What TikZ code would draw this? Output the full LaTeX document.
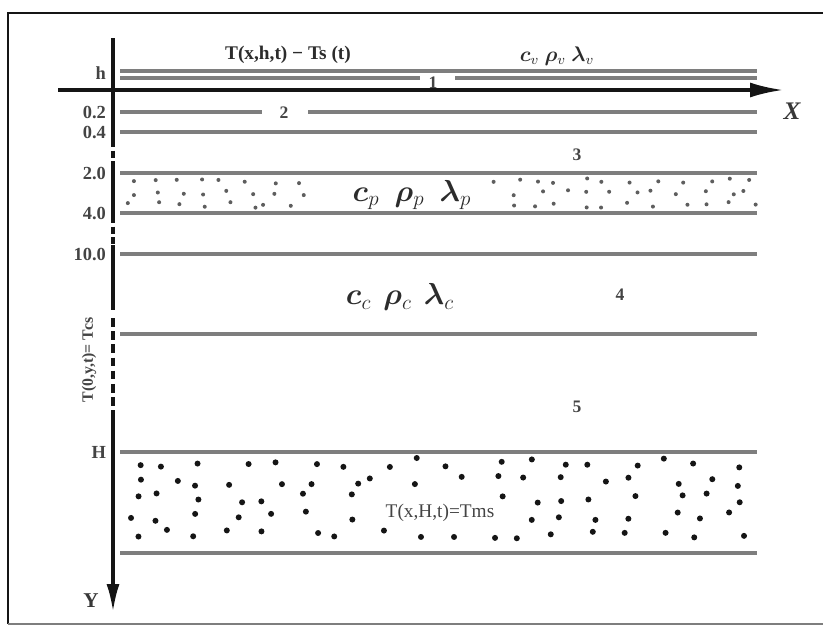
\documentclass[tikz,border=0pt]{standalone}
\usepackage{bm}
\usepackage{fontspec}
\setmainfont{Liberation Serif}
\usetikzlibrary{arrows.meta}
\definecolor{encre}{HTML}{151515}
\definecolor{trait}{HTML}{7E7E7E}
\definecolor{grain}{HTML}{5E5E5E}

\begin{document}
\begin{tikzpicture}[x=0.02cm, y=-0.02cm,
    axe/.style={encre, line width=1.8pt},
    couche/.style={trait, line width=1.9pt},
    graduation/.style={font=\fontsize{10.5}{12}\selectfont\bfseries, color=encre!80, anchor=east, inner sep=1pt},
    numero/.style={font=\fontsize{10}{11}\selectfont\bfseries, color=encre!80, inner sep=1pt},
    proprio/.style={font=\LARGE, color=encre!90, inner sep=1pt}]
    \useasboundingbox (0,0) rectangle (823,626);
    % cadre
    \draw[encre, line width=1.2pt] (823,13) -- (8,13) -- (8,624);
    \draw[trait, line width=1pt] (8,624) -- (823,624);
    % couches
    \foreach \yy in {71,132,173,213,254,334,452,553} {
      \draw[couche] (120,\yy) -- (757,\yy);
    }
    \draw[couche] (120,78) -- (420,78);
    \draw[couche] (455,78) -- (757,78);
    \draw[couche] (120,112) -- (262,112);
    \draw[couche] (308,112) -- (757,112);
    % graduations
    \foreach \yy/\lab/\nom in {73/h/h, 112/0.2/a, 132/0.4/b, 173/2.0/c, 213/4.0/d, 254/10.0/e, 452/H/H} {
      \node[graduation] (g-\nom) at (108,\yy) {\lab};
    }
    % axes
    \coordinate (ox) at (58,90);
    \coordinate (fx) at (783,90);
    \draw[axe, -{Latex[length=0.66cm, width=0.3cm]}] (ox) -- (fx);
    \node[font=\Large\bfseries\itshape, color=encre!85] (lab-x) at (792,111) {X};
    \coordinate (oy) at (113,38);
    \coordinate (fy) at (113,612);
    \draw[axe] (oy) -- (113,140);
    \draw[axe, dash pattern=on 4pt off 2pt] (113,140) -- (113,168);
    \draw[axe] (113,168) -- (113,216);
    \draw[axe, dash pattern=on 4pt off 2pt] (113,216) -- (113,245);
    \draw[axe] (113,245) -- (113,310);
    \draw[axe, dash pattern=on 5pt off 2.5pt] (113,318) -- (113,415);
    \draw[axe, -{Latex[length=0.56cm, width=0.26cm]}] (113,415) -- (fy);
    \node[font=\large\bfseries, color=encre!85] (lab-y) at (91,601) {Y};
    % textes
    \node[font=\fontsize{11}{13}\selectfont\bfseries, color=encre!90] (bord-h) at (288,55) {T(x,h,t) − Ts (t)};
    \node[font=\large, color=encre!90] (prop-v) at (557,56) {$\bm{c}_v$ $\bm{\rho}_v$ $\bm{\lambda}_v$};
    \node[proprio] (prop-p) at (412,195) {$\bm{c}_p$\hspace{0.5em}$\bm{\rho}_p$\hspace{0.5em}$\bm{\lambda}_p$};
    \node[proprio] (prop-c) at (400,297) {$\bm{c}_c$\hspace{0.4em}$\bm{\rho}_c$\hspace{0.4em}$\bm{\lambda}_c$};
    \node[font=\fontsize{9}{10}\selectfont\bfseries, color=encre!80, rotate=90] (bord-0) at (89,360) {T(0,y,t)= Tcs};
    \node[font=\fontsize{11}{13}\selectfont, color=encre!80] (bord-H) at (440,513) {T(x,H,t)=Tms};
    \foreach \px/\py/\lab in {433/83/1, 284/113/2, 577/155/3, 620/295/4, 577/407/5} {
      \node[numero] (n-\lab) at (\px,\py) {\lab};
    }
    % grains
    \pgfmathsetseed{11}
    \foreach \ry in {181,193,205} {
      \foreach \cx in {128,152,...,755} {
        \pgfmathsetmacro\px{\cx+9*rand}
        \pgfmathsetmacro\py{\ry+3*rand}
        \pgfmathtruncatemacro\libre{((\px>318)&&(\px<492)) ? 0 : 1}
        \ifnum\libre=1 \fill[grain] (\px,\py) circle[radius=2]; \fi
      }
    }
    \foreach \ry in {463,481,498,516,534} {
      \foreach \cx in {130,166,...,755} {
        \pgfmathsetmacro\px{\cx+13*rand}
        \pgfmathsetmacro\py{\ry+5*rand}
        \pgfmathtruncatemacro\libre{((\px>362)&&(\px<516)&&(\py>497)&&(\py<528)) ? 0 : 1}
        \ifnum\libre=1 \fill[encre] (\px,\py) circle[radius=3]; \fi
      }
    }
\end{tikzpicture}
\end{document}
